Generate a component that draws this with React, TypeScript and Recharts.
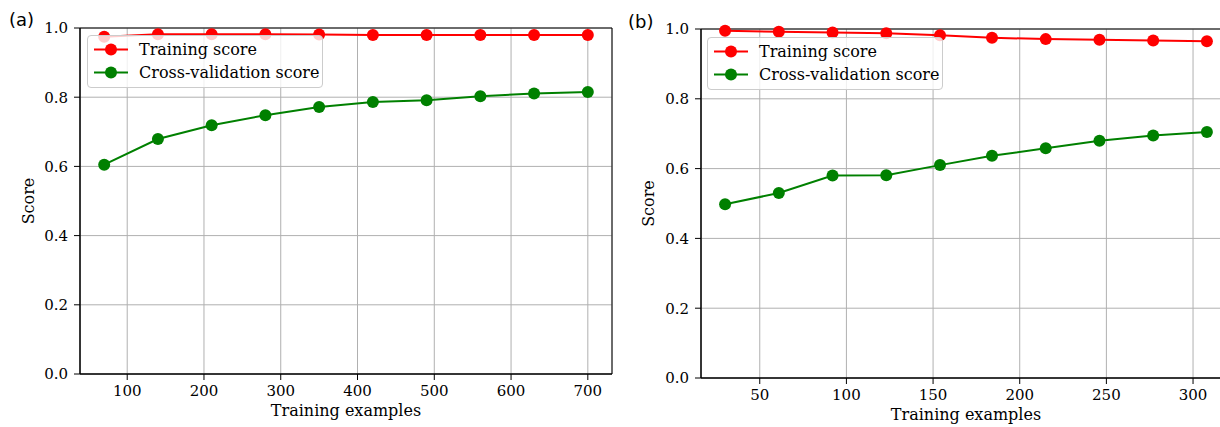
import React from 'react';
import { LineChart, Line, XAxis, YAxis, CartesianGrid, Legend, ReferenceArea } from 'recharts';

// Panel (a)
const sizesA = [70, 140, 210, 280, 350, 420, 490, 560, 630, 700];
const trainA = [0.975, 0.982, 0.982, 0.982, 0.981, 0.98, 0.98, 0.98, 0.98, 0.98];
const cvA = [0.605, 0.679, 0.719, 0.748, 0.772, 0.786, 0.791, 0.803, 0.811, 0.815];
const xTicksA = [100, 200, 300, 400, 500, 600, 700];
const xDomainA = [38.5, 731.5];

// Panel (b)
const sizesB = [30, 61, 92, 123, 154, 184, 215, 246, 277, 308];
const trainB = [0.995, 0.992, 0.99, 0.988, 0.982, 0.975, 0.971, 0.969, 0.967, 0.965];
const cvB = [0.498, 0.53, 0.58, 0.581, 0.61, 0.637, 0.658, 0.68, 0.695, 0.705];
const xTicksB = [50, 100, 150, 200, 250, 300];
const xDomainB = [16.1, 321.9];

const yTicks = [0, 0.2, 0.4, 0.6, 0.8, 1.0];
const seriesNames = ['Training score', 'Cross-validation score'];
const seriesColors = ['#ff0000', '#008000'];

const SERIF = "'DejaVu Serif', serif";
const SANS = "'DejaVu Sans', sans-serif";

const LegendBox = () => (
  <div
    style={{
      boxSizing: 'border-box',
      width: 236,
      height: 53,
      border: '1px solid #cccccc',
      borderRadius: 4,
      background: 'rgba(255,255,255,0.8)',
      paddingTop: 1.5,
    }}
  >
    {seriesNames.map((n, i) => (
      <div key={n} style={{ display: 'flex', alignItems: 'center', height: 23 }}>
        <svg width={44} height={23} style={{ display: 'block', marginLeft: 1 }}>
          <line x1={5} x2={39} y1={11.5} y2={11.5} stroke={seriesColors[i]} strokeWidth={2} />
          <circle cx={22} cy={11.5} r={6} fill={seriesColors[i]} />
        </svg>
        <span style={{ fontFamily: SERIF, fontSize: 16, color: '#000', marginLeft: 6, lineHeight: '23px', whiteSpace: 'nowrap' }}>
          {n}
        </span>
      </div>
    ))}
  </div>
);

type PanelProps = {
  sizes: number[];
  train: number[];
  cv: number[];
  xTicks: number[];
  xDomain: number[];
  width: number;
  margin: { top: number; right: number; bottom: number; left: number };
  yAxisWidth: number;
  xAxisHeight: number;
  legendLeft: number;
  legendTop: number;
};

const Panel = (p: PanelProps) => {
  const data = p.sizes.map((x, i) => ({ x, train: p.train[i], cv: p.cv[i] }));
  return (
    <LineChart width={p.width} height={427} data={data} margin={p.margin} style={{ fontFamily: SERIF }}>
      <CartesianGrid stroke="#b0b0b0" strokeWidth={1} />
      <ReferenceArea
        x1={p.xDomain[0]}
        x2={p.xDomain[1]}
        y1={0}
        y2={1}
        fill="none"
        stroke="#000"
        strokeWidth={1}
        fillOpacity={0}
      />
      <XAxis
        type="number"
        dataKey="x"
        domain={p.xDomain}
        ticks={p.xTicks}
        allowDataOverflow
        height={p.xAxisHeight}
        tickSize={6}
        tickMargin={5}
        stroke="#000"
        tick={{ fill: '#000', fontFamily: SERIF, fontSize: 15 }}
        label={{
          content: (lp: any) => {
            const vb = lp.viewBox || {};
            return (
              <text x={vb.x + vb.width / 2} y={vb.y + 42} textAnchor="middle" fontFamily={SERIF} fontSize={16} fill="#000">
                Training examples
              </text>
            );
          },
        }}
      />
      <YAxis
        type="number"
        domain={[0, 1]}
        ticks={yTicks}
        width={p.yAxisWidth}
        tickSize={6}
        tickMargin={6}
        stroke="#000"
        tickFormatter={(v: number) => v.toFixed(1)}
        tick={{ fill: '#000', fontFamily: SERIF, fontSize: 15 }}
        label={{
          content: (lp: any) => {
            const vb = lp.viewBox || {};
            const cx = vb.x + 34;
            const cy = vb.y + vb.height / 2;
            return (
              <text x={cx} y={cy} transform={`rotate(-90 ${cx} ${cy})`} textAnchor="middle" fontFamily={SERIF} fontSize={16} fill="#000">
                Score
              </text>
            );
          },
        }}
      />
      <Line
        type="linear"
        dataKey="train"
        name={seriesNames[0]}
        stroke={seriesColors[0]}
        strokeWidth={2}
        dot={{ r: 6, fill: seriesColors[0], stroke: seriesColors[0], strokeWidth: 0 }}
        activeDot={false}
        isAnimationActive={false}
      />
      <Line
        type="linear"
        dataKey="cv"
        name={seriesNames[1]}
        stroke={seriesColors[1]}
        strokeWidth={2}
        dot={{ r: 6, fill: seriesColors[1], stroke: seriesColors[1], strokeWidth: 0 }}
        activeDot={false}
        isAnimationActive={false}
      />
      <Legend
        layout="vertical"
        align="center"
        verticalAlign="middle"
        content={() => <LegendBox />}
        wrapperStyle={{ left: p.legendLeft, top: p.legendTop, width: 'auto', height: 'auto', margin: 0 }}
      />
    </LineChart>
  );
};

export default function App() {
  return (
    <div
      style={{
        position: 'absolute',
        left: 0,
        top: 0,
        width: 1220,
        height: 427,
        overflow: 'hidden',
        background: '#fff',
      }}
    >
      <div style={{ position: 'absolute', left: 0, top: 0 }}>
        <Panel
          sizes={sizesA}
          train={trainA}
          cv={cvA}
          xTicks={xTicksA}
          xDomain={xDomainA}
          width={620}
          margin={{ top: 28, right: 8, bottom: 3, left: 0 }}
          yAxisWidth={80}
          xAxisHeight={50}
          legendLeft={87}
          legendTop={35}
        />
      </div>
      <div style={{ position: 'absolute', left: 620, top: 0 }}>
        <Panel
          sizes={sizesB}
          train={trainB}
          cv={cvB}
          xTicks={xTicksB}
          xDomain={xDomainB}
          width={611}
          margin={{ top: 29, right: 0, bottom: 1, left: 0 }}
          yAxisWidth={81}
          xAxisHeight={48}
          legendLeft={87}
          legendTop={37}
        />
      </div>
      <div style={{ position: 'absolute', left: 9, top: 8, fontFamily: SANS, fontSize: 18, color: '#000', lineHeight: '24px' }}>(a)</div>
      <div style={{ position: 'absolute', left: 628, top: 10, fontFamily: SANS, fontSize: 18, color: '#000', lineHeight: '24px' }}>(b)</div>
    </div>
  );
}
